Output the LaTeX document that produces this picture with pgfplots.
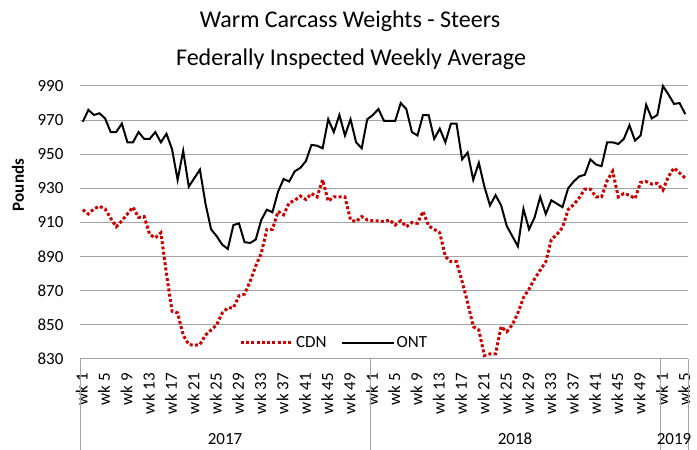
\documentclass[border=0pt]{standalone}
\usepackage{fontspec}
\setmainfont{Carlito}
\usepackage{pgfplots}
\pgfplotsset{compat=1.18}
\definecolor{cdnred}{RGB}{204,0,0}
\definecolor{gridgray}{RGB}{165,165,165}

\begin{document}
\begin{tikzpicture}
\useasboundingbox (0pt,0pt) rectangle (697pt,450pt);
\node[anchor=base,font=\fontsize{24}{28}\selectfont] at (350pt,422pt) {Warm Carcass Weights - Steers};
\node[anchor=base,font=\fontsize{24}{28}\selectfont] at (351pt,384pt) {Federally Inspected Weekly Average};
\node[rotate=90,font=\fontsize{17}{20}\selectfont\bfseries] at (18pt,265pt) {Pounds};
\begin{axis}[
  at={(80pt,91pt)}, anchor=south west,
  width=608pt, height=273pt, scale only axis,
  xmin=-0.5, xmax=108.5, ymin=830, ymax=990,
  ytick={830,850,...,990},
  xtick={0,4,...,108},
  xticklabels={wk 1,wk 5,wk 9,wk 13,wk 17,wk 21,wk 25,wk 29,wk 33,wk 37,wk 41,wk 45,wk 49,
               wk 1,wk 5,wk 9,wk 13,wk 17,wk 21,wk 25,wk 29,wk 33,wk 37,wk 41,wk 45,wk 49,
               wk 1,wk 5},
  ymajorgrids, grid style={gridgray, line width=1pt},
  axis line style={draw=none},
  major tick length=0pt,
  tick label style={font=\fontsize{17}{20}\selectfont},
  /pgf/number format/assume math mode=true,
  xticklabel style={rotate=90, anchor=east, inner sep=1pt, xshift=-13pt, yshift=1pt},
  yticklabel style={xshift=-13pt},
  clip=false,
  legend columns=2,
  legend style={at={(0.418,0.059)}, anchor=center, draw=none, fill=none,
    font=\fontsize{17}{20}\selectfont,
    /tikz/every even column/.append style={column sep=12pt}},
  legend image code/.code={\draw[#1] (0pt,0pt) -- (52pt,0pt);},
]
\addplot[cdnred, line width=3pt, dash pattern=on 3pt off 2.3pt] coordinates {
(0,917.5)(1,915)(2,918)(3,919.5)(4,918)(5,912.5)(6,907.5)(7,911)(8,915)(9,919)
(10,913)(11,913.5)(12,903)(13,901)(14,904)(15,880)(16,858)(17,857)(18,844)(19,838.5)
(20,838)(21,838.5)(22,844)(23,847)(24,850)(25,857)(26,860)(27,860)(28,867)(29,868)
(30,875.5)(31,884.5)(32,892)(33,906)(34,906)(35,916.5)(36,914.5)(37,921.5)(38,923)(39,925.5)
(40,923.5)(41,927)(42,925)(43,935)(44,922.5)(45,925)(46,925)(47,925)(48,911.5)(49,910.5)
(50,913.5)(51,911.5)(52,911)(53,911)(54,910.5)(55,911.5)(56,908.5)(57,911)(58,907.5)(59,910)
(60,909.5)(61,916.5)(62,908)(63,906)(64,904)(65,890)(66,887)(67,887)(68,875.5)(69,863)
(70,849)(71,847)(72,832)(73,833)(74,833)(75,849)(76,846)(77,850)(78,857)(79,866)
(80,871)(81,877)(82,882)(83,887)(84,900)(85,903)(86,907)(87,917.5)(88,920.5)(89,924.5)
(90,929.5)(91,929.5)(92,925)(93,925)(94,934.5)(95,940)(96,925)(97,927)(98,926)(99,924)
(100,933.5)(101,934)(102,932.5)(103,933)(104,929)(105,937)(106,942)(107,939)(108,936)
};
\addlegendentry{CDN}
\addplot[black, line width=2pt] coordinates {
(0,969)(1,976)(2,973)(3,974)(4,971)(5,963)(6,963)(7,968)(8,957)(9,957)
(10,963)(11,959)(12,959)(13,963)(14,957)(15,962)(16,953)(17,935)(18,952)(19,931)
(20,936)(21,941)(22,921)(23,906)(24,902)(25,897)(26,894.5)(27,908.5)(28,909.5)(29,898.5)
(30,898)(31,900)(32,911.5)(33,917.5)(34,916)(35,928)(36,935.5)(37,934)(38,940)(39,942)
(40,946)(41,955.5)(42,955)(43,953.5)(44,970.5)(45,963)(46,973)(47,961)(48,970.5)(49,957)
(50,953.5)(51,970.5)(52,973)(53,976.5)(54,969.5)(55,969.5)(56,969.5)(57,980)(58,976.5)(59,963)
(60,961)(61,973)(62,973)(63,959)(64,965)(65,957)(66,968)(67,968)(68,947)(69,951)
(70,935)(71,945)(72,931)(73,920)(74,926)(75,920)(76,908)(77,902)(78,896)(79,918)
(80,906)(81,913)(82,925)(83,915)(84,923)(85,921)(86,919)(87,930)(88,934)(89,937)
(90,938)(91,947)(92,944)(93,943)(94,957)(95,957)(96,956)(97,959)(98,967)(99,958)
(100,961)(101,979)(102,971)(103,973)(104,990)(105,985)(106,979.5)(107,980)(108,973.5)
};
\addlegendentry{ONT}
\draw[gridgray, line width=1pt] (axis cs:-0.5,830) -- ++(0pt,-91pt);
\draw[gridgray, line width=1pt] (axis cs:51.5,830) -- ++(0pt,-91pt);
\draw[gridgray, line width=1pt] (axis cs:103.5,830) -- ++(0pt,-91pt);
\draw[gridgray, line width=1pt] (axis cs:108.5,830) -- ++(0pt,-91pt);
\node[anchor=base, font=\fontsize{17}{20}\selectfont] at (axis cs:25.5,830) [yshift=-86pt] {2017};
\node[anchor=base, font=\fontsize{17}{20}\selectfont] at (axis cs:77.5,830) [yshift=-86pt] {2018};
\node[anchor=base, font=\fontsize{17}{20}\selectfont] at (axis cs:106,830) [yshift=-86pt] {2019};
\end{axis}
\end{tikzpicture}
\end{document}
